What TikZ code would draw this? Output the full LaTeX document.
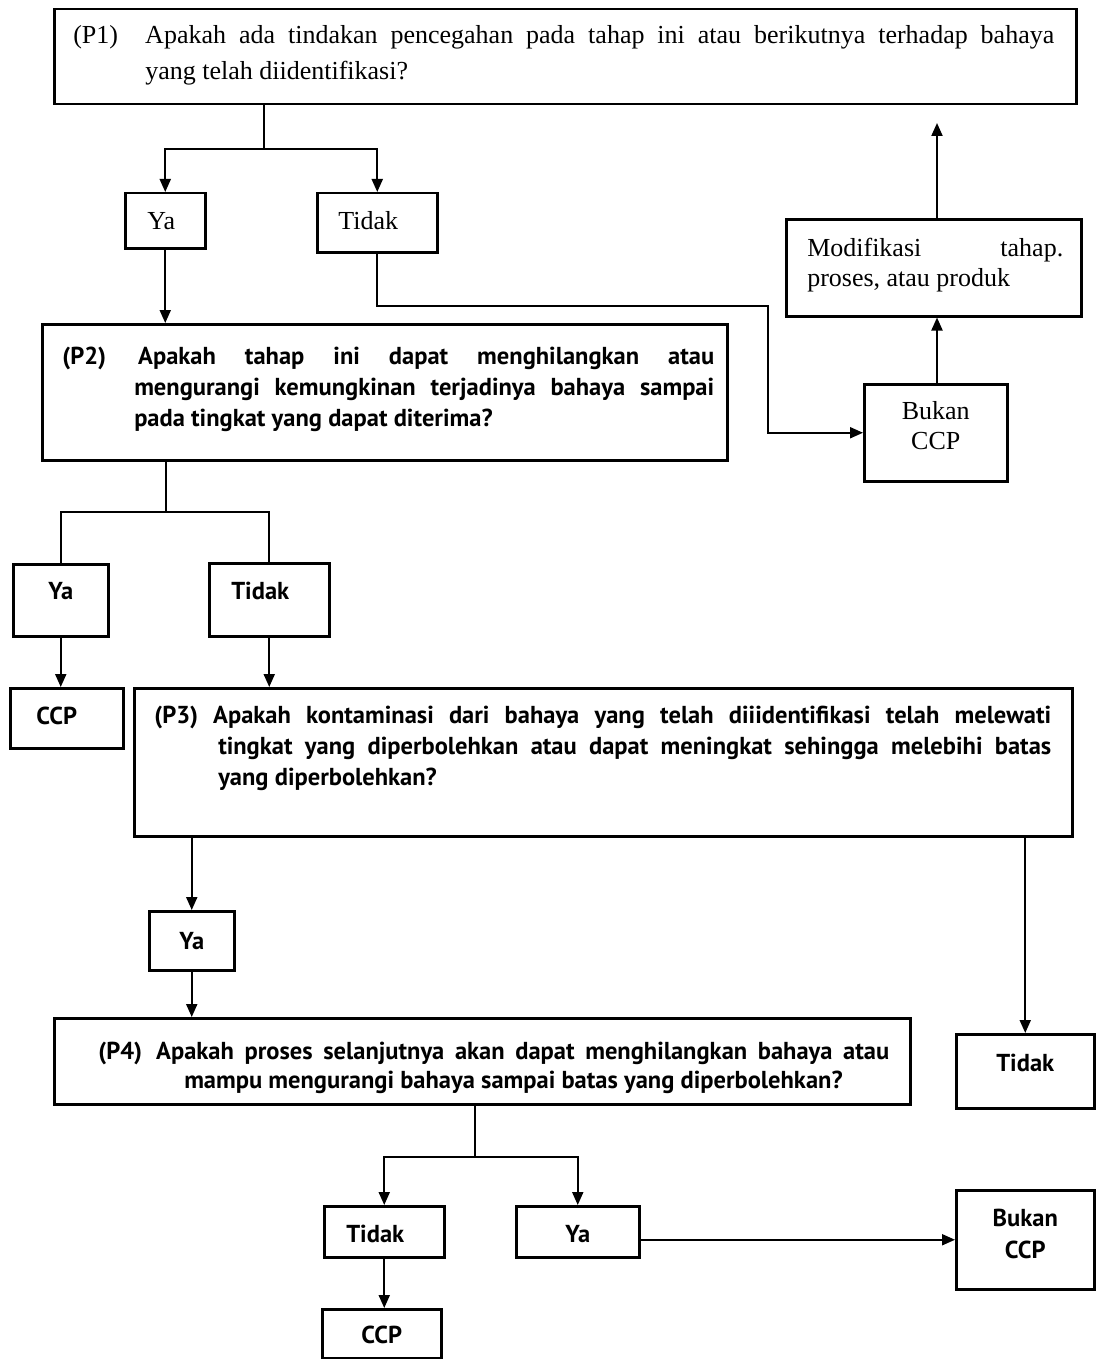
\documentclass[tikz,border=0pt]{standalone}
\usepackage{fontspec}
\setmainfont{Liberation Serif}
\newfontfamily\bsans{PT Sans}
\usetikzlibrary{arrows.meta}
\newcommand\mystrut[2]{\rule[-#2pt]{0pt}{\dimexpr #1pt+#2pt\relax}}
\tikzset{
  basebox/.style={draw, line width=2.5pt, inner sep=0pt, anchor=north west},
  rbox/.style={basebox, font=\fontsize{26}{30}\selectfont},
  bbox/.style={basebox, font=\bsans\bfseries\fontsize{24.5}{28}\selectfont},
  conn/.style={line width=2pt},
  arr/.style={conn, -{Triangle[length=13pt,width=11pt]}},
}
\begin{document}
\begin{tikzpicture}[x=1pt,y=1pt]
\useasboundingbox (0,0) rectangle (1099,-1359);

% ---- top level ----
\node[rbox, minimum width=1022pt, minimum height=95pt] (P1) at (53,-8)
 {\hspace*{19pt}\parbox{981pt}{\fontsize{26}{36}\selectfont
  \makebox[981pt][s]{\mystrut{20}{0}\makebox[72pt][l]{(P1)}Apakah ada tindakan pencegahan pada tahap ini atau berikutnya terhadap bahaya}\\
  \hspace*{72pt}yang telah diidentifikasi?\mystrut{0}{11}}\hspace*{22pt}};

\node[rbox, minimum width=80pt, minimum height=55pt] (Ya1) at (124,-192) {\mystrut{20}{3}Ya\hspace*{8pt}};
\node[rbox, minimum width=120pt, minimum height=59pt] (Tidak1) at (316,-192) {\mystrut{20}{7}Tidak\hspace*{18pt}};

\node[rbox, minimum width=295pt, minimum height=97pt] (Mod) at (785,-218)
 {\hspace*{21pt}\parbox{256pt}{\fontsize{26}{30}\selectfont
  \makebox[256pt][s]{\mystrut{20}{0}Modifikasi tahap.}\\
  proses, atau produk\mystrut{0}{13}}\hspace*{18pt}};

\node[rbox, minimum width=143pt, minimum height=97pt] (Bukan1) at (863,-383)
 {\parbox{143pt}{\centering\fontsize{26}{30}\selectfont\mystrut{20}{0}Bukan\\CCP\mystrut{0}{17}}};

% ---- P2 level ----
\node[bbox, minimum width=685pt, minimum height=136pt] (P2) at (41,-323)
 {\hspace*{20pt}\parbox{652pt}{\fontsize{24.5}{31}\selectfont
  \makebox[652pt][s]{\mystrut{20}{0}\makebox[76pt][l]{(P2)}Apakah tahap ini dapat menghilangkan atau}\\
  \hspace*{72pt}\makebox[580pt][s]{mengurangi kemungkinan terjadinya bahaya sampai}\\
  \hspace*{72pt}pada tingkat yang dapat diterima?\mystrut{0}{14}}\hspace*{13pt}};

\node[bbox, minimum width=95pt, minimum height=72pt] (Ya2) at (12,-563) {\mystrut{20}{22}Ya};
\node[bbox, minimum width=120pt, minimum height=73pt] (Tidak2) at (208,-562) {\mystrut{20}{21}Tidak\hspace*{18pt}};
\node[bbox, minimum width=113pt, minimum height=60pt] (CCP1) at (9,-687) {\mystrut{20}{8}CCP\hspace*{20pt}};

% ---- P3 level ----
\node[bbox, minimum width=938pt, minimum height=148pt] (P3) at (133,-687)
 {\hspace*{20pt}\parbox{897pt}{\fontsize{24.5}{31}\selectfont
  \makebox[897pt][s]{\mystrut{20}{0}\makebox[59pt][l]{(P3)}Apakah kontaminasi dari bahaya yang telah diiidentifikasi telah melewati}\\
  \hspace*{64pt}\makebox[833pt][s]{tingkat yang diperbolehkan atau dapat meningkat sehingga melebihi batas}\\
  \hspace*{64pt}yang diperbolehkan?\mystrut{0}{36}}\hspace*{21pt}};

\node[bbox, minimum width=85pt, minimum height=59pt] (Ya3) at (148,-910) {\mystrut{20}{3}Ya};
\node[bbox, minimum width=138pt, minimum height=74pt] (Tidak3) at (955,-1033) {\mystrut{20}{20}Tidak};

% ---- P4 level ----
\node[bbox, minimum width=856pt, minimum height=86pt] (P4) at (53,-1017)
 {\hspace*{44pt}\parbox{791pt}{\fontsize{24.5}{29}\selectfont
  \makebox[791pt][s]{\mystrut{32}{0}\makebox[58pt][l]{(P4)}Apakah proses selanjutnya akan dapat menghilangkan bahaya atau}\\
  \hspace*{86pt}mampu mengurangi bahaya sampai batas yang diperbolehkan?\mystrut{0}{7}}\hspace*{21pt}};

\node[bbox, minimum width=120pt, minimum height=51pt] (Tidak4) at (323,-1205) {\mystrut{22}{1}Tidak\hspace*{18pt}};
\node[bbox, minimum width=123pt, minimum height=51pt] (Ya4) at (515,-1205) {\mystrut{22}{1}Ya};
\node[bbox, minimum width=138pt, minimum height=99pt] (Bukan2) at (955,-1189)
 {\parbox{138pt}{\centering\fontsize{24.5}{32}\selectfont\mystrut{20}{0}Bukan\\CCP\mystrut{0}{15}}};
\node[bbox, minimum width=119pt, minimum height=49pt] (CCP2) at (321,-1308) {\mystrut{20}{1}CCP};

% ---- connectors ----
\coordinate (s1) at (264,-149);
\coordinate (t1) at (768,-306);
\coordinate (upend) at (937,-123);
\coordinate (s2) at (166,-512);
\coordinate (s4) at (475,-1157);

\draw[conn] (P1.south -| s1) -- (s1);
\draw[arr] (s1) -| (Ya1.north);
\draw[arr] (s1) -| (Tidak1.north);
\draw[arr] (Ya1.south) -- (Ya1.south |- P2.north);
\draw[arr] (Tidak1.south) |- (t1) |- (Bukan1.west);
\draw[arr] (upend |- Bukan1.north) -- (upend |- Mod.south);
\draw[arr] (upend |- Mod.north) -- (upend);

\draw[conn] (P2.south -| s2) -- (s2);
\draw[conn] (s2) -| (Ya2.north);
\draw[conn] (s2) -| (Tidak2.north);
\draw[arr] (Ya2.south) -- (Ya2.south |- CCP1.north);
\draw[arr] (Tidak2.south) -- (Tidak2.south |- P3.north);

\draw[arr] (Ya3.north |- P3.south) -- (Ya3.north);
\draw[arr] (Ya3.south) -- (Ya3.south |- P4.north);
\draw[arr] (Tidak3.north |- P3.south) -- (Tidak3.north);

\draw[conn] (P4.south -| s4) -- (s4);
\draw[arr] (s4) -| (Tidak4.north);
\draw[arr] (s4) -| (Ya4.north);
\draw[arr] (Tidak4.south) -- (Tidak4.south |- CCP2.north);
\draw[arr] (Ya4.east |- Bukan2.west) -- (Bukan2.west);
\end{tikzpicture}
\end{document}
